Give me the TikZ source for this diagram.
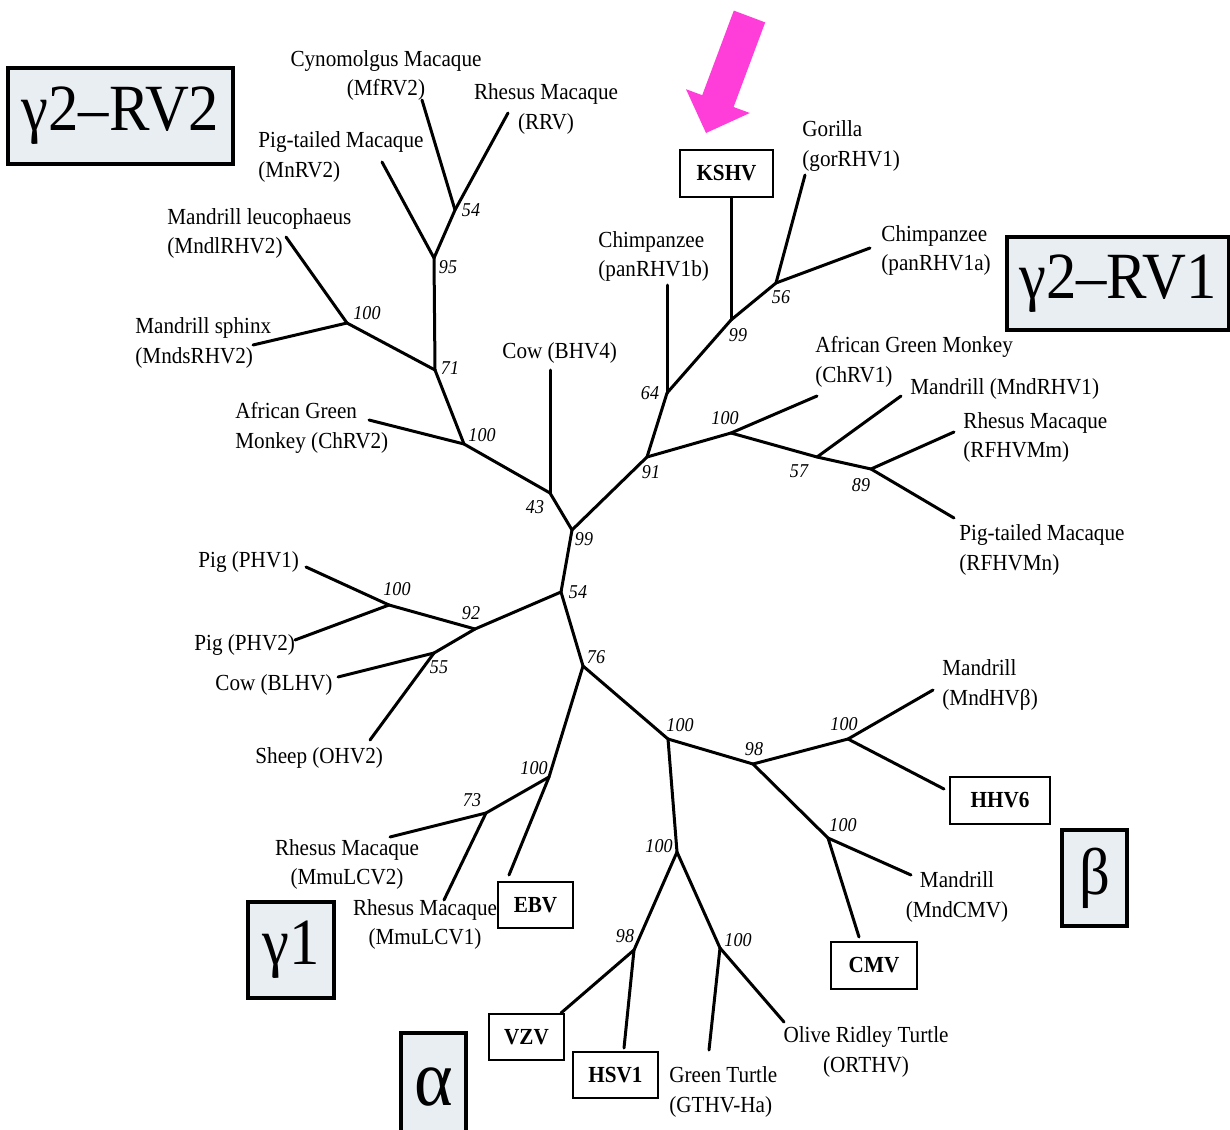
\documentclass[tikz,border=0pt]{standalone}
\usepackage{fontspec}
\setmainfont{Liberation Serif}[FakeStretch=0.92]
\definecolor{catfill}{RGB}{233,238,243}
\definecolor{arrowpink}{RGB}{255,62,218}
\begin{document}
\begin{tikzpicture}[x=0.5pt,y=-0.5pt,
  br/.style={line width=1.5pt, line cap=round},
  lab/.style={font=\fontsize{11.5}{14.75}\selectfont, inner sep=0pt},
  num/.style={font=\fontsize{9.8}{11}\selectfont\itshape, inner sep=0pt},
  vbox/.style={draw, line width=1.4pt, font=\fontsize{11.5}{14}\selectfont\bfseries, inner sep=0pt},
  cat/.style={draw, line width=1.6pt, fill=catfill, inner sep=0pt, font=\fontsize{33}{36}\selectfont}]
\useasboundingbox (0,0) rectangle (1230,1129);

% ---------- internal nodes ----------
\coordinate (n54a) at (455,210);
\coordinate (n95) at (434,258);
\coordinate (n100a) at (347,323);
\coordinate (n71) at (435,370);
\coordinate (n100b) at (464,444);
\coordinate (n43) at (550,493);
\coordinate (n99r) at (572,530);
\coordinate (n91) at (647,457);
\coordinate (n64) at (667,393);
\coordinate (n99k) at (731,320);
\coordinate (n56) at (776,283);
\coordinate (n100c) at (731,433);
\coordinate (n57) at (817,457);
\coordinate (n89) at (871,469);
\coordinate (n54b) at (561,592);
\coordinate (n92) at (475,629);
\coordinate (n100d) at (389,605);
\coordinate (n55) at (434,653);
\coordinate (n76) at (583,666);
\coordinate (n100e) at (549,777);
\coordinate (n73) at (486,813);
\coordinate (n100f) at (668,739);
\coordinate (n98a) at (753,764);
\coordinate (n100g) at (848,739);
\coordinate (n100h) at (828,838);
\coordinate (n100i) at (677,852);
\coordinate (n98b) at (634,950);
\coordinate (n100j) at (720,948);

% ---------- leaf ends ----------
\coordinate (eMf) at (422,100);
\coordinate (eRRV) at (508,113);
\coordinate (eMn) at (382,162);
\coordinate (eMndl) at (286,237);
\coordinate (eMnds) at (253,345);
\coordinate (eChRV2) at (369,420);
\coordinate (eBHV4) at (550,370);
\coordinate (ePanB) at (667,285);
\coordinate (eGor) at (805,175);
\coordinate (ePanA) at (870,248);
\coordinate (eChRV1) at (817,396);
\coordinate (eMndRHV1) at (901,396);
\coordinate (eRFm) at (954,432);
\coordinate (eRFn) at (954,518);
\coordinate (ePHV1) at (306,567);
\coordinate (ePHV2) at (295,640);
\coordinate (eBLHV) at (338,677);
\coordinate (eOHV2) at (370,740);
\coordinate (eLCV2) at (390,837);
\coordinate (eLCV1) at (444,900);
\coordinate (eEBV) at (509,875);
\coordinate (eMndB) at (933,690);
\coordinate (eHHV6) at (944,789);
\coordinate (eMndCMV) at (911,875);
\coordinate (eCMV) at (859,937);
\coordinate (eVZV) at (561,1013);
\coordinate (eHSV1) at (624,1048);
\coordinate (eGTHV) at (709,1050);
\coordinate (eORTHV) at (784,1022);

% ---------- boxed viruses ----------
\node[vbox, minimum width=46.5pt, minimum height=23.5pt] (kshv) at (726.5,173.5) {KSHV};
\node[vbox, minimum width=37.5pt, minimum height=23pt] (ebv) at (535.5,905) {EBV};
\node[vbox, minimum width=37.5pt, minimum height=23pt] (vzv) at (526.5,1037) {VZV};
\node[vbox, minimum width=42.5pt, minimum height=23pt] (hsv1) at (615.5,1075) {HSV1};
\node[vbox, minimum width=50pt, minimum height=23.5pt] (hhv6) at (1000,800.5) {HHV6};
\node[vbox, minimum width=43pt, minimum height=23.5pt] (cmv) at (874,965.5) {CMV};

% ---------- branches ----------
\draw[br] (n54b) -- (n99r);
\draw[br] (n99r) -- (n43);
\draw[br] (n99r) -- (n91);
\draw[br] (n43) -- (n100b);
\draw[br] (n43) -- (eBHV4);
\draw[br] (n100b) -- (n71);
\draw[br] (n100b) -- (eChRV2);
\draw[br] (n71) -- (n95);
\draw[br] (n71) -- (n100a);
\draw[br] (n100a) -- (eMndl);
\draw[br] (n100a) -- (eMnds);
\draw[br] (n95) -- (n54a);
\draw[br] (n95) -- (eMn);
\draw[br] (n54a) -- (eMf);
\draw[br] (n54a) -- (eRRV);
\draw[br] (n91) -- (n64);
\draw[br] (n91) -- (n100c);
\draw[br] (n64) -- (ePanB);
\draw[br] (n64) -- (n99k);
\draw[br] (n99k) -- (n99k |- kshv.south);
\draw[br] (n99k) -- (n56);
\draw[br] (n56) -- (eGor);
\draw[br] (n56) -- (ePanA);
\draw[br] (n100c) -- (eChRV1);
\draw[br] (n100c) -- (n57);
\draw[br] (n57) -- (eMndRHV1);
\draw[br] (n57) -- (n89);
\draw[br] (n89) -- (eRFm);
\draw[br] (n89) -- (eRFn);
\draw[br] (n54b) -- (n92);
\draw[br] (n54b) -- (n76);
\draw[br] (n92) -- (n100d);
\draw[br] (n92) -- (n55);
\draw[br] (n100d) -- (ePHV1);
\draw[br] (n100d) -- (ePHV2);
\draw[br] (n55) -- (eBLHV);
\draw[br] (n55) -- (eOHV2);
\draw[br] (n76) -- (n100e);
\draw[br] (n76) -- (n100f);
\draw[br] (n100e) -- (n73);
\draw[br] (n100e) -- (eEBV);
\draw[br] (n73) -- (eLCV2);
\draw[br] (n73) -- (eLCV1);
\draw[br] (n100f) -- (n98a);
\draw[br] (n100f) -- (n100i);
\draw[br] (n98a) -- (n100g);
\draw[br] (n98a) -- (n100h);
\draw[br] (n100g) -- (eMndB);
\draw[br] (n100g) -- (eHHV6);
\draw[br] (n100h) -- (eMndCMV);
\draw[br] (n100h) -- (eCMV);
\draw[br] (n100i) -- (n98b);
\draw[br] (n100i) -- (n100j);
\draw[br] (n98b) -- (eVZV);
\draw[br] (n98b) -- (eHSV1);
\draw[br] (n100j) -- (eGTHV);
\draw[br] (n100j) -- (eORTHV);

% ---------- bootstrap values ----------
\node[num] (b54a) at (471,210) {54};
\node[num] (b95) at (448,267) {95};
\node[num] (b100a) at (367,313) {100};
\node[num] (b71) at (450,368) {71};
\node[num] (b100b) at (482,435) {100};
\node[num] (b43) at (535,507) {43};
\node[num] (b99r) at (584,539) {99};
\node[num] (b91) at (651,472) {91};
\node[num] (b64) at (650,393) {64};
\node[num] (b99k) at (738,335) {99};
\node[num] (b56) at (781,297) {56};
\node[num] (b100c) at (725,418) {100};
\node[num] (b57) at (799,471) {57};
\node[num] (b89) at (861,485) {89};
\node[num] (b54b) at (578,592) {54};
\node[num] (b92) at (471,613) {92};
\node[num] (b100d) at (397,589) {100};
\node[num] (b55) at (439,667) {55};
\node[num] (b76) at (596,657) {76};
\node[num] (b100e) at (534,768) {100};
\node[num] (b73) at (472,800) {73};
\node[num] (b100f) at (680,725) {100};
\node[num] (b98a) at (754,749) {98};
\node[num] (b100g) at (844,724) {100};
\node[num] (b100h) at (843,825) {100};
\node[num] (b100i) at (659,846) {100};
\node[num] (b98b) at (625,936) {98};
\node[num] (b100j) at (738,940) {100};

% ---------- leaf labels ----------
\node[lab, align=center] (tMf) at (386,75.5) {Cynomolgus Macaque\\(MfRV2)};
\node[lab, align=center] (tRRV) at (546,109) {Rhesus Macaque\\(RRV)};
\node[lab, align=left, anchor=west] (tMn) at (258,157) {Pig-tailed Macaque\\(MnRV2)};
\node[lab, align=left, anchor=west] (tMndl) at (167,233.5) {Mandrill leucophaeus\\(MndlRHV2)};
\node[lab, align=left, anchor=west] (tMnds) at (135,343) {Mandrill sphinx\\(MndsRHV2)};
\node[lab, align=left, anchor=west] (tChRV2) at (235,428) {African Green\\Monkey (ChRV2)};
\node[lab, anchor=west] (tBHV4) at (502,353) {Cow (BHV4)};
\node[lab, align=left, anchor=west] (tPanB) at (598,256.5) {Chimpanzee\\(panRHV1b)};
\node[lab, align=left, anchor=west] (tGor) at (802,146) {Gorilla\\(gorRHV1)};
\node[lab, align=left, anchor=west] (tPanA) at (881,250.5) {Chimpanzee\\(panRHV1a)};
\node[lab, align=left, anchor=west] (tChRV1) at (815,362) {African Green Monkey\\(ChRV1)};
\node[lab, anchor=west] (tMndRHV1) at (910,389) {Mandrill (MndRHV1)};
\node[lab, align=left, anchor=west] (tRFm) at (963,437.5) {Rhesus Macaque\\(RFHVMm)};
\node[lab, align=left, anchor=west] (tRFn) at (959,550) {Pig-tailed Macaque\\(RFHVMn)};
\node[lab, anchor=west] (tPHV1) at (198,562) {Pig (PHV1)};
\node[lab, anchor=west] (tPHV2) at (194,645) {Pig (PHV2)};
\node[lab, anchor=west] (tBLHV) at (215,685) {Cow (BLHV)};
\node[lab, anchor=west] (tOHV2) at (255,758) {Sheep (OHV2)};
\node[lab, align=center] (tLCV2) at (347,864.5) {Rhesus Macaque\\(MmuLCV2)};
\node[lab, align=center] (tLCV1) at (425,924.5) {Rhesus Macaque\\(MmuLCV1)};
\node[lab, align=left, anchor=west] (tMndB) at (942,685) {Mandrill\\(MndHVβ)};
\node[lab, align=center] (tMndCMV) at (957,897) {Mandrill\\(MndCMV)};
\node[lab, align=left, anchor=west] (tGTHV) at (669,1092) {Green Turtle\\(GTHV-Ha)};
\node[lab, align=center] (tORTHV) at (866,1052) {Olive Ridley Turtle\\(ORTHV)};

% ---------- clade boxes ----------
\node[cat, minimum width=112.5pt, minimum height=48pt] (cRV2) at (120.5,116) {γ2–RV2};
\node[cat, minimum width=111pt, minimum height=46.5pt] (cRV1) at (1118,283.5) {γ2–RV1};
\node[cat, minimum width=43pt, minimum height=48pt] (cG1) at (291,950) {γ1};
\node[cat, minimum width=32.5pt, minimum height=48pt] (cB) at (1094.5,878) {β};
\node[cat, minimum width=32.5pt, minimum height=54pt, text depth=0pt, font=\fontsize{40}{44}\selectfont] (cA) at (433.5,1087) {α};

% ---------- pink arrow ----------
\fill[arrowpink] (733.8,10.6) -- (765.2,22.4) -- (733.6,107) -- (749.8,113) -- (706,133) -- (686,89.2) -- (702.2,95.2) -- cycle;
\end{tikzpicture}
\end{document}
